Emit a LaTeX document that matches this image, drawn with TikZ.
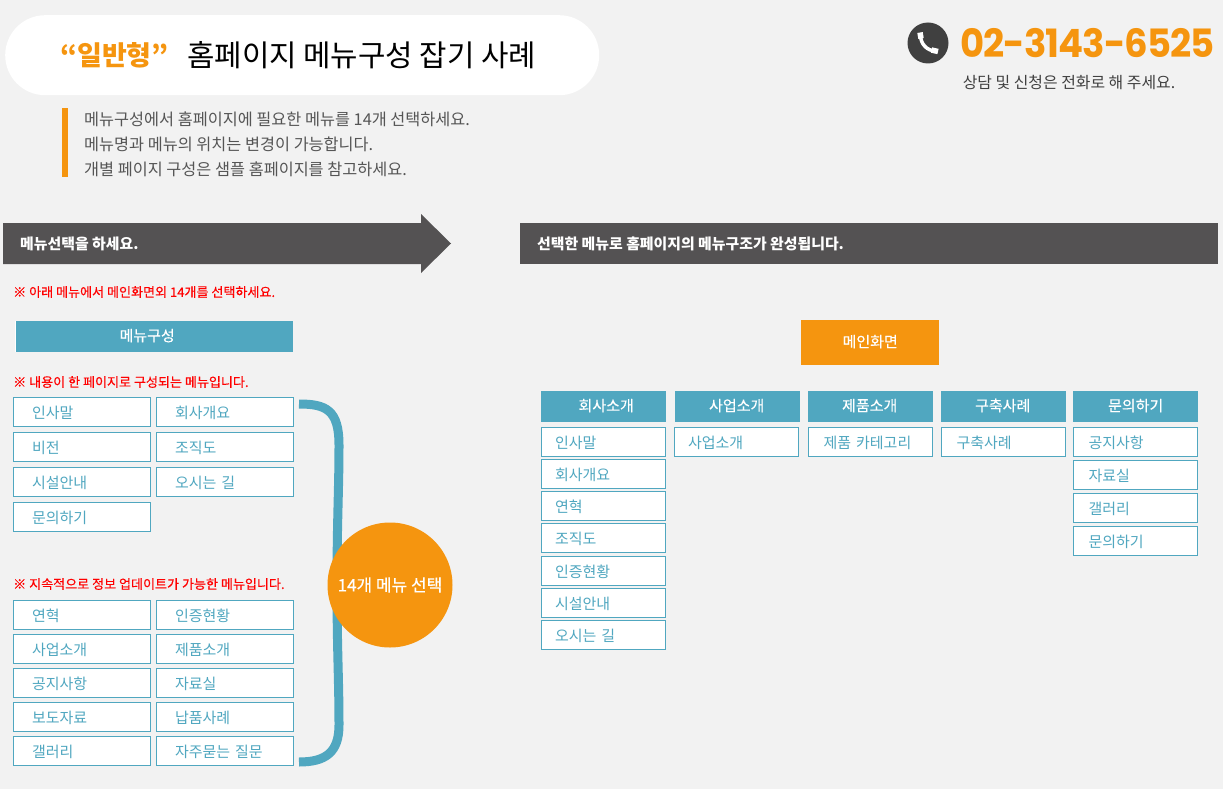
\documentclass[tikz,border=0pt]{standalone}
\usepackage{fontspec}
\setmainfont{Noto Sans CJK KR}
\newfontfamily\medfont[FakeBold=0.35]{Noto Sans CJK KR}
\newfontfamily\numfont[FakeStretch=0.95,LetterSpace=-2.5]{Poppins Bold}
\definecolor{pagegray}{HTML}{F2F2F2}
\definecolor{menublue}{HTML}{50A7C0}
\definecolor{menuorange}{HTML}{F5950F}
\definecolor{bardark}{HTML}{545253}
\definecolor{notegray}{HTML}{555555}
\tikzset{
  menubox/.style={draw=menublue,fill=white,line width=1pt,anchor=north west,minimum height=29pt,
    inner ysep=0pt,inner xsep=#1,align=left,text=menublue,text height=14.5pt,text depth=2.5pt,
    font=\fontsize{15}{17}\selectfont},
  leftbox/.style={menubox=18.5pt,text width=100pt},
  subbox/.style={menubox=13.5pt,text width=97pt},
  subboxwide/.style={menubox=15pt,text width=94pt},
  headbox/.style={fill=menublue,anchor=north west,minimum width=125pt,minimum height=31pt,inner sep=0pt,
    text=white,text height=11pt,text depth=2pt,font=\fontsize{15}{17}\medfont\selectfont},
  barlabel/.style={anchor=west,inner sep=0pt,text=white,font=\fontsize{14.9}{17}\bfseries\selectfont},
  rednote/.style={anchor=west,inner sep=0pt,text=red,font=\fontsize{13.05}{15}\medfont\selectfont},
  introline/.style={anchor=west,inner sep=0pt,text=notegray,font=\fontsize{16.3}{19}\selectfont}
}

\begin{document}
\begin{tikzpicture}[x=1pt,y=-1pt]
  % Page background
  \fill[pagegray] (0,0) rectangle (1223,789);
  \useasboundingbox (0,0) rectangle (1223,789);

  % Title and intro
  \node[fill=white,rounded corners=40pt,anchor=north west,minimum width=594pt,minimum height=80pt,inner sep=0pt] (titlePill) at (5,15) {};
  \node[anchor=west,inner sep=0pt,text=menuorange,font=\fontsize{27}{30}\bfseries\selectfont] (titleMark) at (60,55) {“일반형”};
  \node[anchor=west,inner sep=0pt,font=\fontsize{29.8}{32}\selectfont] (titleText) at (187,55) {홈페이지 메뉴구성 잡기 사례};
  \fill[menuorange] (62,108) rectangle (68,177);
  \node[introline] (introA) at (84,119) {메뉴구성에서 홈페이지에 필요한 메뉴를 14개 선택하세요.};
  \node[introline] (introB) at (84,144) {메뉴명과 메뉴의 위치는 변경이 가능합니다.};
  \node[introline] (introC) at (84,169) {개별 페이지 구성은 샘플 홈페이지를 참고하세요.};

  % Phone
  \node[circle,fill=black!75,minimum size=41pt,inner sep=0pt] (phoneDot) at (928,43) {};
  \draw[white,line width=3.5pt] (920.5,35) .. controls (920.5,44) and (927,51) .. (936,51);
  \draw[white,line width=5.5pt] (920,32.5) -- (921,38.5);
  \draw[white,line width=5.5pt] (931.5,50) -- (938,51.5);
  \node[anchor=west,inner sep=0pt,text=menuorange,font=\fontsize{39}{42}\numfont\selectfont] (phoneNum) at (960,43) {02-3143-6525};
  \node[inner sep=0pt,text=black!75,font=\fontsize{15.9}{18}\selectfont] (phoneNote) at (1069,82.5) {상담 및 신청은 전화로 해 주세요.};

  % Dark bars
  \fill[bardark] (3,223) -- (421,223) -- (421,214) -- (451,243.5) -- (421,273) -- (421,264) -- (3,264) -- cycle;
  \fill[bardark] (520,223) rectangle (1218,264);
  \node[barlabel] (barLeft) at (20,243.5) {메뉴선택을 하세요.};
  \node[barlabel] (barRight) at (537,243.5) {선택한 메뉴로 홈페이지의 메뉴구조가 완성됩니다.};

  % Left side: choices
  \node[rednote] (noteTop) at (13,292) {※ 아래 메뉴에서 메인화면외 14개를 선택하세요.};
  \node[headbox,minimum width=278pt] (menuHead) at (15,321) {\hspace{-14pt}메뉴구성};
  \draw[white,line width=1pt] (menuHead.north west) -- (menuHead.south west);

  \node[rednote] (noteOne) at (13,382) {※ 내용이 한 페이지로 구성되는 메뉴입니다.};
  \node[leftbox] (pickGreet) at (13,397) {인사말};
  \node[leftbox] (pickAbout) at (156,397) {회사개요};
  \node[leftbox] (pickVision) at (13,432) {비전};
  \node[leftbox] (pickOrg) at (156,432) {조직도};
  \node[leftbox] (pickSite) at (13,467) {시설안내};
  \node[leftbox] (pickWay) at (156,467) {오시는 길};
  \node[leftbox] (pickAsk) at (13,502) {문의하기};

  \node[rednote] (noteTwo) at (13,584) {※ 지속적으로 정보 업데이트가 가능한 메뉴입니다.};
  \node[leftbox] (pickHist) at (13,600) {연혁};
  \node[leftbox] (pickCert) at (156,600) {인증현황};
  \node[leftbox] (pickBiz) at (13,634) {사업소개};
  \node[leftbox] (pickProd) at (156,634) {제품소개};
  \node[leftbox] (pickNotice) at (13,668) {공지사항};
  \node[leftbox] (pickData) at (156,668) {자료실};
  \node[leftbox] (pickPress) at (13,702) {보도자료};
  \node[leftbox] (pickCase) at (156,702) {납품사례};
  \node[leftbox] (pickGallery) at (13,736) {갤러리};
  \node[leftbox] (pickFaq) at (156,736) {자주묻는 질문};

  % Brace and badge
  \coordinate (braceTop) at (299,404);
  \coordinate (braceBot) at (299,762);
  \draw[menublue,line width=9pt] (braceTop) .. controls (326,404) and (339,410) .. (339,445)
    .. controls (339,490) and (337,520) .. (337,585) .. controls (337,650) and (339,680) .. (339,725)
    .. controls (339,752) and (326,762) .. (braceBot);
  \node[circle,fill=menuorange,minimum size=125pt,inner sep=0pt,text=white,font=\fontsize{17}{19}\medfont\selectfont] (badge) at (390,585) {14개 메뉴 선택};

  % Right side: result
  \node[headbox,fill=menuorange,minimum width=138pt,minimum height=45pt] (mainHead) at (801,320) {메인화면};
  \node[headbox] (headCompany) at (541,391) {\hspace{5pt}회사소개};
  \node[headbox] (headBiz) at (675,391) {\hspace{-2pt}사업소개};
  \node[headbox] (headProd) at (808,391) {\hspace{-2pt}제품소개};
  \node[headbox] (headCase) at (941,391) {\hspace{-2pt}구축사례};
  \node[headbox] (headAsk) at (1073,391) {문의하기};

  \node[subbox] (subGreet) at (541,427) {인사말};
  \node[subbox] (subAbout) at (541,459) {회사개요};
  \node[subbox] (subHist) at (541,491) {연혁};
  \node[subbox] (subOrg) at (541,523) {조직도};
  \node[subbox] (subCert) at (541,556) {인증현황};
  \node[subbox] (subSite) at (541,588) {시설안내};
  \node[subbox] (subWay) at (541,620) {오시는 길};
  \node[subbox] (subBiz) at (674,427) {사업소개};
  \node[subboxwide] (subProd) at (808,427) {제품 카테고리};
  \node[subboxwide] (subCase) at (941,427) {구축사례};
  \node[subboxwide] (subNotice) at (1073,427) {공지사항};
  \node[subboxwide] (subData) at (1073,460) {자료실};
  \node[subboxwide] (subGallery) at (1073,493) {갤러리};
  \node[subboxwide] (subAsk) at (1073,526) {문의하기};
\end{tikzpicture}
\end{document}
